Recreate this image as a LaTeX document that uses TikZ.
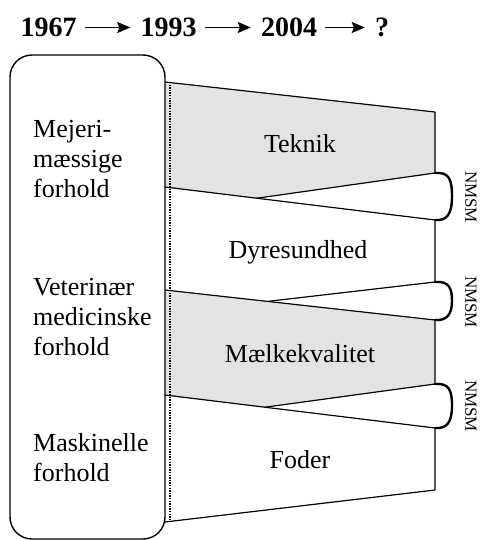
\documentclass[tikz,border=0pt]{standalone}
\usepackage{fontspec}
\setmainfont{Liberation Serif}
\usetikzlibrary{arrows.meta,calc}

\begin{document}
\begin{tikzpicture}
  [x=1pt,y=-1pt,line join=round,
   yeartext/.style={font=\bfseries\fontsize{28}{30}\selectfont,inner sep=0pt,text height=19pt,text depth=0pt,anchor=base},
   yeararrow/.style={line width=1.6pt,-{Stealth[length=13pt,width=11pt,inset=2pt]},shorten <=8pt,shorten >=10pt},
   boxtext/.style={font=\fontsize{26}{30}\selectfont,align=left,inner sep=0pt,anchor=north west},
   bandtext/.style={font=\fontsize{26}{30}\selectfont,inner sep=0pt,anchor=base},
   nmsm/.style={font=\fontsize{17}{19}\selectfont,inner sep=0pt,rotate=-90},
   shade/.style={fill=black!11},
   curl/.style={line width=2.4pt,line cap=round}]
  \useasboundingbox (0,0) rectangle (479,540);

  % title
  \node[yeartext] (y1967) at (48.5,37)  {1967};
  \node[yeartext] (y1993) at (168.5,37) {1993};
  \node[yeartext] (y2004) at (289,37)   {2004};
  \node[yeartext] (yq)    at (382,37)   {?};
  \foreach \from/\to in {y1967/y1993, y1993/y2004, y2004/yq}
    \draw[yeararrow] (\from.east) -- (\to.west);

  % funnel corners and band lines
  \coordinate (tl) at (165,82);  \coordinate (tr) at (435,112);
  \coordinate (bl) at (165,522); \coordinate (br) at (435,490);
  \coordinate (a1l) at (165,187); \coordinate (a1r) at (435,220); \coordinate (b1r) at (435,173);
  \coordinate (a2l) at (165,290); \coordinate (a2r) at (435,320); \coordinate (b2r) at (435,282);
  \coordinate (a3l) at (165,395); \coordinate (a3r) at (435,428); \coordinate (b3r) at (435,384);
  \coordinate (j1) at ($(a1l)!0.34!(a1r)$);
  \coordinate (j2) at ($(a2l)!0.38!(a2r)$);
  \coordinate (j3) at ($(a3l)!0.37!(a3r)$);

  \path[shade] (tl) -- (tr) -- (b1r) -- (j1) -- (a1l) -- cycle;
  \path[shade] (a2l) -- (a2r) -- (b3r) -- (j3) -- (a3l) -- cycle;

  \draw[line width=1.2pt] (tl) -- (tr) -- (b1r) (a1r) -- (b2r) (a2r) -- (b3r) (a3r) -- (br) -- (bl);
  \foreach \l/\r in {a1l/a1r, j1/b1r, a2l/a2r, j2/b2r, a3l/a3r, j3/b3r}
    \draw[line width=1.2pt] (\l) -- (\r);

  % curls at the right edge
  \foreach \t/\b in {b1r/a1r, b2r/a2r, b3r/a3r}
    \draw[curl] (\t) .. controls ($(\t)+(14,-1)$) and ($(\t)+(17,6)$) .. ($(\t)!0.5!(\b)+(17,0)$)
                     .. controls ($(\b)+(17,-6)$) and ($(\b)+(12,1)$) .. (\b);
  \foreach \c [count=\i] in {197,302,406}
    \node[nmsm] (nmsm\i) at (471,\c) {NMSM};

  % left box
  \draw[line width=1.4pt,rounded corners=22pt] (10,55) rectangle (165,539);
  \draw[line width=1.8pt,dash pattern=on 1.4pt off 1.2pt] (170,82) -- (170,521);

  \node[boxtext] (mejeri) at (33,120) {Mejeri-\\mæssige\\forhold};
  \node[boxtext] (vet)    at (33,278) {Veterinær\\medicinske\\forhold};
  \node[boxtext] (mask)   at (33,433) {Maskinelle\\forhold};

  \node[bandtext] (teknik) at (300,153) {Teknik};
  \node[bandtext] (dyr)    at (298,258) {Dyresundhed};
  \node[bandtext] (maelk)  at (300,362) {Mælkekvalitet};
  \node[bandtext] (foder)  at (300,468) {Foder};
\end{tikzpicture}
\end{document}
